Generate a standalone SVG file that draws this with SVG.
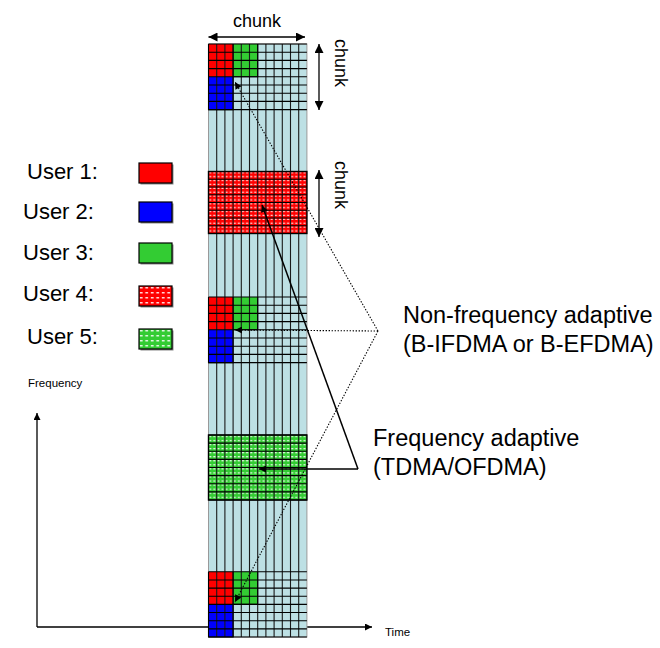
<svg xmlns="http://www.w3.org/2000/svg" width="660" height="648" viewBox="0 0 660 648">
<defs>
<style>
text{font-family:"Liberation Sans",Arial,sans-serif;fill:#000}
.big{font-size:23.5px}
.usr{font-size:22px}
.sm{font-size:11.5px}
.vl{stroke:#1a1a1a;stroke-width:1.1;fill:none}
.hl{stroke:#000;stroke-width:1.1;fill:none}
.dot{stroke:#000;stroke-width:1.1;stroke-dasharray:1.4 1.6;fill:none}
.sol{stroke:#000;stroke-width:1.5;fill:none}
.ax{stroke:#000;stroke-width:1.3;fill:none}
.lg{stroke:#000;stroke-width:1.2}
</style>
<marker id="big" viewBox="0 0 10 10" refX="10" refY="5" markerWidth="12" markerHeight="9" markerUnits="userSpaceOnUse" orient="auto-start-reverse"><path d="M0,0 L10,5 L0,10 z" fill="#000"/></marker>
<marker id="sm" viewBox="0 0 10 10" refX="10" refY="5" markerWidth="9" markerHeight="7" markerUnits="userSpaceOnUse" orient="auto"><path d="M0,0 L10,5 L0,10 z" fill="#000"/></marker>
<pattern id="pr" patternUnits="userSpaceOnUse" x="208.5" y="171.5" width="4.1" height="3.875"><rect width="4.1" height="3.875" fill="#f00"/><rect x="0.6" y="0.7" width="2.2" height="1.2" fill="#fff" opacity="0.85"/></pattern>
<pattern id="pg" patternUnits="userSpaceOnUse" x="208.5" y="435" width="4.1" height="4.06"><rect width="4.1" height="4.06" fill="#33cc33"/><rect x="0.6" y="0.8" width="2.2" height="1.2" fill="#fff" opacity="0.85"/></pattern>
<pattern id="lpr" patternUnits="userSpaceOnUse" x="139" y="286" width="5.5" height="5"><rect width="5.5" height="5" fill="#f00"/><rect x="0.8" y="1" width="2.8" height="1.5" fill="#fff" opacity="0.85"/></pattern>
<pattern id="lpg" patternUnits="userSpaceOnUse" x="139" y="329" width="5.5" height="5"><rect width="5.5" height="5" fill="#33cc33"/><rect x="0.8" y="1" width="2.8" height="1.5" fill="#fff" opacity="0.85"/></pattern>
</defs>

<g id="legend">
<g id="user1"><text class="usr" x="27" y="179">User 1:</text><rect x="140.5" y="164.5" width="33" height="20" fill="#888"/><rect x="139" y="163" width="33" height="20" fill="#f00" class="lg"/></g>
<g id="user2"><text class="usr" x="23" y="219">User 2:</text><rect x="140.5" y="203.5" width="33" height="20" fill="#888"/><rect x="139" y="202" width="33" height="20" fill="#00f" class="lg"/></g>
<g id="user3"><text class="usr" x="23" y="260">User 3:</text><rect x="140.5" y="244.5" width="33" height="20" fill="#888"/><rect x="139" y="243" width="33" height="20" fill="#33cc33" class="lg"/></g>
<g id="user4"><text class="usr" x="23" y="301">User 4:</text><rect x="140.5" y="287.5" width="33" height="20" fill="#888"/><rect x="139" y="286" width="33" height="20" fill="url(#lpr)" class="lg"/></g>
<g id="user5"><text class="usr" x="27" y="344">User 5:</text><rect x="140.5" y="330.5" width="33" height="20" fill="#888"/><rect x="139" y="329" width="33" height="20" fill="url(#lpg)" class="lg"/></g>
</g>

<g id="axes">
<line class="ax" x1="37" y1="627" x2="37" y2="413" marker-end="url(#sm)"/>
<line class="ax" x1="37" y1="627" x2="372" y2="627" marker-end="url(#sm)"/>
</g>

<g id="column">
<rect x="208.5" y="44" width="98.4" height="593" fill="#bde0e4" stroke="#999" stroke-width="1"/>
<rect x="208.5" y="44" width="24.6" height="32.8" fill="#f00"/>
<rect x="233.1" y="44" width="24.6" height="32.8" fill="#33cc33"/>
<rect x="208.5" y="76.8" width="24.6" height="32.8" fill="#00f"/>
<rect x="208.5" y="297" width="24.6" height="32.8" fill="#f00"/>
<rect x="233.1" y="297" width="24.6" height="32.8" fill="#33cc33"/>
<rect x="208.5" y="329.8" width="24.6" height="32.8" fill="#00f"/>
<rect x="208.5" y="571.8" width="24.6" height="32.6" fill="#f00"/>
<rect x="233.1" y="571.8" width="24.6" height="32.6" fill="#33cc33"/>
<rect x="208.5" y="604.4" width="24.6" height="32.6" fill="#00f"/>
<rect x="208.5" y="171.5" width="98.4" height="62" fill="url(#pr)"/>
<rect x="208.5" y="435" width="98.4" height="65" fill="url(#pg)"/>
<path class="vl" d="M216.7 44V637M224.9 44V637M233.1 44V637M241.3 44V637M249.5 44V637M257.7 44V637M265.9 44V637M274.1 44V637M282.3 44V637M290.5 44V637M298.7 44V637"/>
<path class="hl" d="M208.5 44H306.9M208.5 52.2H306.9M208.5 60.4H306.9M208.5 68.6H306.9M208.5 76.8H306.9M208.5 85H306.9M208.5 93.2H306.9M208.5 101.4H306.9M208.5 109.6H306.9"/>
<path class="hl" d="M208.5 171.5H306.9M208.5 179.25H306.9M208.5 187H306.9M208.5 194.75H306.9M208.5 202.5H306.9M208.5 210.25H306.9M208.5 218H306.9M208.5 225.75H306.9M208.5 233.5H306.9"/>
<path class="hl" d="M208.5 297H306.9M208.5 305.2H306.9M208.5 313.4H306.9M208.5 321.6H306.9M208.5 329.8H306.9M208.5 338H306.9M208.5 346.2H306.9M208.5 354.4H306.9M208.5 362.6H306.9"/>
<path class="hl" d="M208.5 435H306.9M208.5 443.1H306.9M208.5 451.25H306.9M208.5 459.4H306.9M208.5 467.5H306.9M208.5 475.6H306.9M208.5 483.75H306.9M208.5 491.9H306.9M208.5 500H306.9"/>
<path class="hl" d="M208.5 571.8H306.9M208.5 579.95H306.9M208.5 588.1H306.9M208.5 596.25H306.9M208.5 604.4H306.9M208.5 612.55H306.9M208.5 620.7H306.9M208.5 628.85H306.9M208.5 637H306.9"/>
<path class="hl" stroke-width="1.6" d="M208.5 44V109.6H233.1V44M233.1 76.8H257.7V44M208.5 297V362.6H233.1V297M233.1 329.8H257.7V297M208.5 571.8V637H233.1V571.8M233.1 604.4H257.7V571.8"/>
<rect x="208.5" y="171.5" width="98.4" height="62" fill="none" stroke="#000" stroke-width="1.4"/>
<rect x="208.5" y="435" width="98.4" height="65" fill="none" stroke="#000" stroke-width="1.4"/>
</g>

<g id="chunk-labels">
<text x="257" y="27" font-size="18" text-anchor="middle">chunk</text>
<text font-size="18" text-anchor="middle" transform="translate(335 63) rotate(90)">chunk</text>
<text font-size="18" text-anchor="middle" transform="translate(335 185) rotate(90)">chunk</text>
</g>

<g id="labels">
<text class="big" x="403" y="323">Non-frequency adaptive</text>
<text class="big" x="403" y="352">(B-IFDMA or B-EFDMA)</text>
<text class="big" x="373" y="446">Frequency adaptive</text>
<text class="big" x="373" y="475">(TDMA/OFDMA)</text>
<text class="sm" x="28" y="387">Frequency</text>
<text class="sm" x="385" y="636">Time</text>
</g>

<g id="connectors">
<line class="ax" x1="208.5" y1="37" x2="305" y2="37" marker-start="url(#big)" marker-end="url(#big)"/>
<line class="ax" x1="319" y1="44" x2="319" y2="110" marker-start="url(#big)" marker-end="url(#big)"/>
<line class="ax" x1="319" y1="170" x2="319" y2="237" marker-start="url(#big)" marker-end="url(#big)"/>
<line class="dot" x1="378" y1="331" x2="235" y2="82" marker-end="url(#sm)"/>
<line class="dot" x1="378" y1="331" x2="235" y2="330" marker-end="url(#sm)"/>
<line class="dot" x1="378" y1="331" x2="235" y2="602" marker-end="url(#sm)"/>
<line class="sol" x1="358" y1="469" x2="262" y2="205" marker-end="url(#sm)"/>
<line class="sol" x1="358" y1="469" x2="259" y2="469" marker-end="url(#sm)"/>
</g>
</svg>
